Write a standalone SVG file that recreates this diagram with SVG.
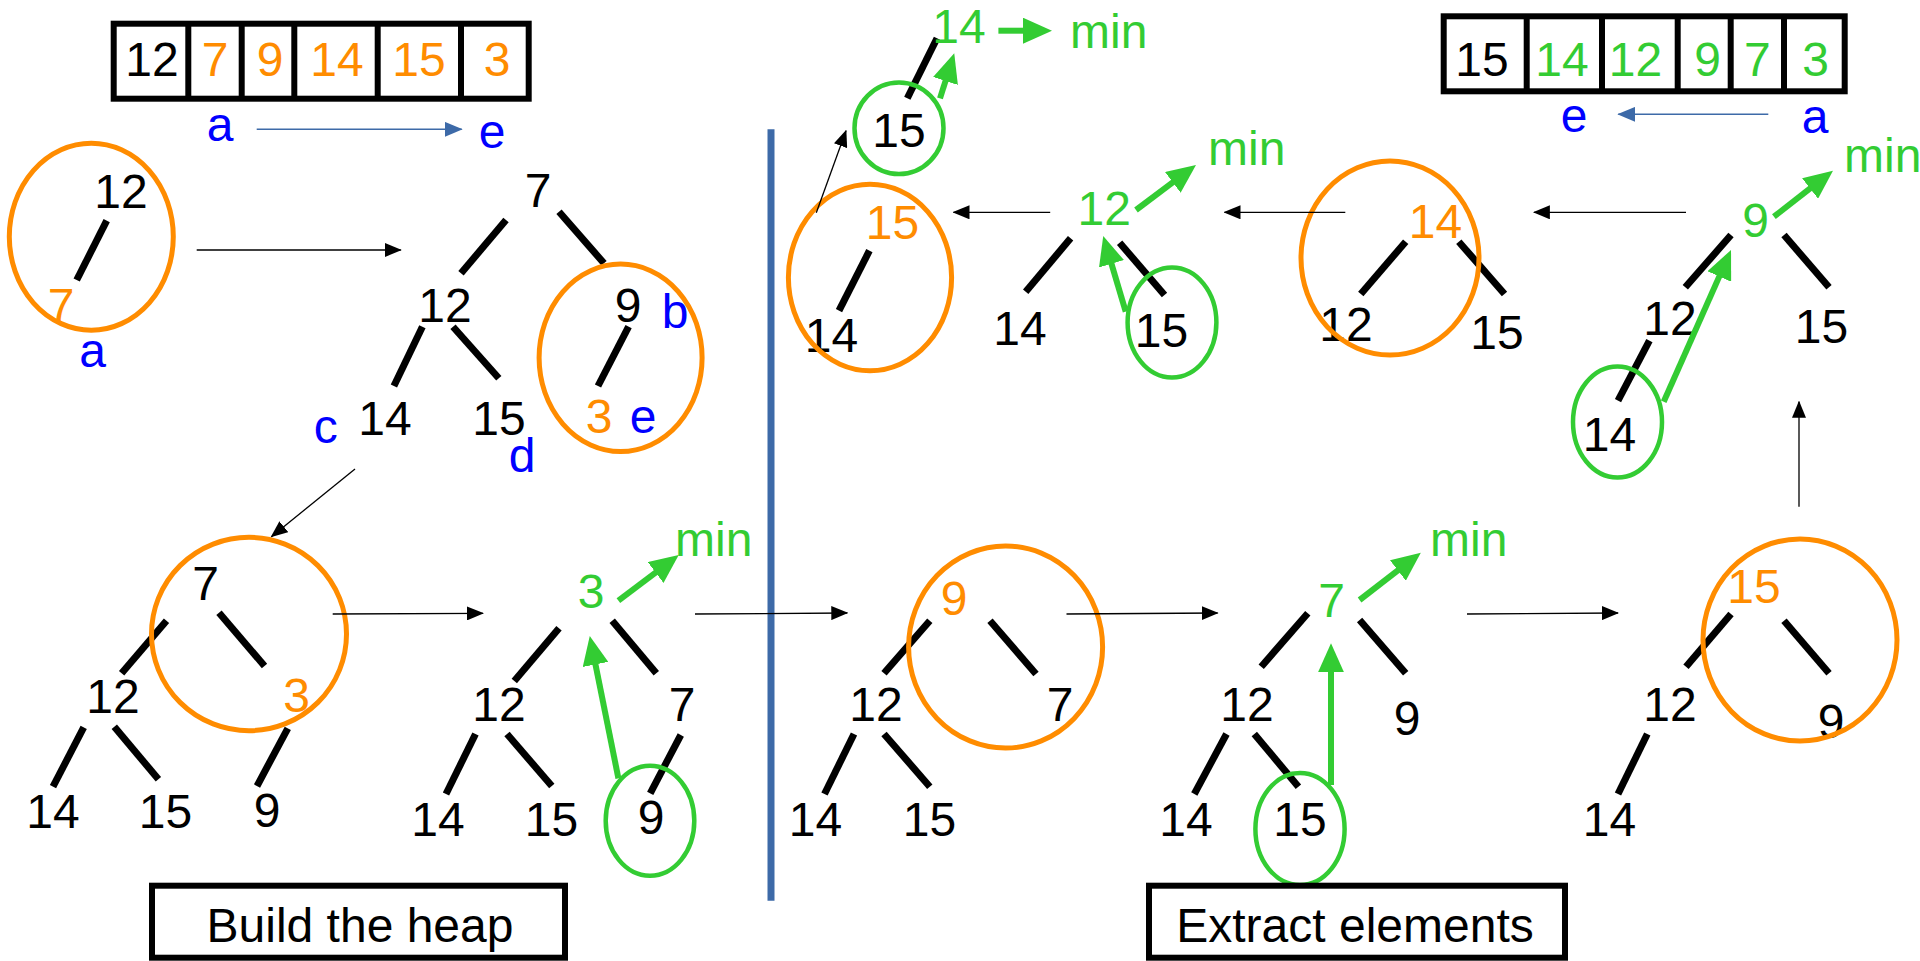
<svg xmlns="http://www.w3.org/2000/svg" width="1920" height="961" viewBox="0 0 1920 961">
  <style>
    text { font-family: "Liberation Sans", Arial, sans-serif; font-size: 48px; text-anchor: middle; fill: #000; }
    .o { fill: #FF8C00; }
    .g { fill: #33CC33; }
    .b { fill: #0000FF; }
    .st { text-anchor: start; }
    .edge { stroke: #000; stroke-width: 7; fill: none; }
    .cell { fill: #fff; stroke: #000; stroke-width: 6; }
    .div { stroke: #000; stroke-width: 6; }
    .ringO { fill: none; stroke: #FF8C00; stroke-width: 5; }
    .ringG { fill: none; stroke: #33CC33; stroke-width: 4.5; }
    .thin { stroke: #000; stroke-width: 1.3; fill: none; marker-end: url(#ah); }
    .blue { stroke: #3D6AA8; stroke-width: 1.5; fill: none; marker-end: url(#ahBlue); }
    .fat { stroke: #33CC33; stroke-width: 6; fill: none; marker-end: url(#ahGreen); }
    .label { fill: #fff; stroke: #000; stroke-width: 6; }
  </style>
  <defs>
    <marker id="ah" markerUnits="userSpaceOnUse" markerWidth="17" markerHeight="14" refX="16" refY="7" orient="auto">
      <path d="M0,0 L17,7 L0,14 z" fill="#000"/>
    </marker>
    <marker id="ahBlue" markerUnits="userSpaceOnUse" markerWidth="18" markerHeight="15" refX="17" refY="7.5" orient="auto">
      <path d="M0,0 L18,7.5 L0,15 z" fill="#3D6AA8"/>
    </marker>
    <marker id="ahGreen" markerUnits="userSpaceOnUse" markerWidth="29" markerHeight="26" refX="7" refY="13" orient="auto">
      <path d="M0,0 L29,13 L0,26 z" fill="#33CC33"/>
    </marker>
  </defs>

  <rect width="1920" height="961" fill="#fff"/>

  <!-- input array -->
  <g id="array-input">
    <rect class="cell" x="113.7" y="23.7" width="415" height="75"/>
    <line class="div" x1="188.3" y1="23.7" x2="188.3" y2="98.7"/>
    <line class="div" x1="241.7" y1="23.7" x2="241.7" y2="98.7"/>
    <line class="div" x1="294.3" y1="23.7" x2="294.3" y2="98.7"/>
    <line class="div" x1="377.7" y1="23.7" x2="377.7" y2="98.7"/>
    <line class="div" x1="461" y1="23.7" x2="461" y2="98.7"/>
    <text x="152" y="76">12</text>
    <text class="o" x="215" y="76">7</text>
    <text class="o" x="270" y="76">9</text>
    <text class="o" x="337" y="76">14</text>
    <text class="o" x="419" y="76">15</text>
    <text class="o" x="497" y="76">3</text>
    <text class="b" x="220" y="140.7">a</text>
    <text class="b" x="492" y="148.3">e</text>
  </g>

  <!-- sorted array -->
  <g id="array-sorted">
    <rect class="cell" x="1443.7" y="16.3" width="401" height="75"/>
    <line class="div" x1="1526.7" y1="16.3" x2="1526.7" y2="91.3"/>
    <line class="div" x1="1602" y1="16.3" x2="1602" y2="91.3"/>
    <line class="div" x1="1677.7" y1="16.3" x2="1677.7" y2="91.3"/>
    <line class="div" x1="1730.7" y1="16.3" x2="1730.7" y2="91.3"/>
    <line class="div" x1="1784" y1="16.3" x2="1784" y2="91.3"/>
    <text x="1482" y="76">15</text>
    <text class="g" x="1562" y="76">14</text>
    <text class="g" x="1635.5" y="76">12</text>
    <text class="g" x="1707.5" y="76">9</text>
    <text class="g" x="1757.3" y="76">7</text>
    <text class="g" x="1815.5" y="76">3</text>
    <text class="b" x="1574" y="131.7">e</text>
    <text class="b" x="1815" y="133.3">a</text>
  </g>

  <!-- build step 1: 12 / 7 -->
  <g id="build-1">
    <line class="edge" x1="106.7" y1="220.7" x2="76.7" y2="280"/>
    <text x="121" y="208.3">12</text>
    <text class="o" x="61" y="321.7">7</text>
    <ellipse class="ringO" cx="91.3" cy="236.7" rx="82" ry="93.5"/>
    <text class="b" x="92.5" y="366.7">a</text>
  </g>

  <!-- build step 2 -->
  <g id="build-2">
    <line class="edge" x1="506" y1="220" x2="461" y2="273.3"/>
    <line class="edge" x1="559" y1="211.7" x2="604" y2="263.3"/>
    <line class="edge" x1="422.4" y1="326.7" x2="393.9" y2="386"/>
    <line class="edge" x1="453" y1="326.7" x2="498.8" y2="378.3"/>
    <line class="edge" x1="628.6" y1="326.7" x2="598" y2="386"/>
    <text x="538" y="206.7">7</text>
    <text x="445" y="321.7">12</text>
    <text x="628" y="322">9</text>
    <text x="385" y="435">14</text>
    <text x="499" y="435">15</text>
    <text class="o" x="599" y="433.3">3</text>
    <ellipse class="ringO" cx="620.6" cy="357.8" rx="81.5" ry="93.7"/>
    <text class="b" x="675" y="328">b</text>
    <text class="b" x="325.7" y="442.7">c</text>
    <text class="b" x="522" y="471.7">d</text>
    <text class="b" x="643" y="433.3">e</text>
  </g>

  <!-- build step 3 -->
  <g id="build-3">
    <line class="edge" x1="166.5" y1="620.7" x2="121.6" y2="673.3"/>
    <line class="edge" x1="219" y1="612.7" x2="264.5" y2="666"/>
    <line class="edge" x1="83.7" y1="727.3" x2="53" y2="786.7"/>
    <line class="edge" x1="114.3" y1="726.7" x2="158.4" y2="779.3"/>
    <line class="edge" x1="287.8" y1="728.3" x2="257" y2="786"/>
    <text x="205.7" y="600">7</text>
    <text x="113" y="712.7">12</text>
    <text class="o" x="296.5" y="712.3">3</text>
    <text x="53" y="828.3">14</text>
    <text x="165.5" y="828.3">15</text>
    <text x="267" y="826.7">9</text>
    <ellipse class="ringO" cx="249" cy="634" rx="97.5" ry="96.7"/>
  </g>

  <!-- built heap, root 3 -->
  <g id="heap-3">
    <line class="edge" x1="559" y1="628.3" x2="514.3" y2="681"/>
    <line class="edge" x1="612.2" y1="620.7" x2="656.3" y2="673.3"/>
    <line class="edge" x1="475.5" y1="734" x2="446" y2="794"/>
    <line class="edge" x1="507" y1="734" x2="551.8" y2="786"/>
    <line class="edge" x1="680.8" y1="735" x2="650.2" y2="793.3"/>
    <text class="g" x="591" y="608.3">3</text>
    <text x="499" y="720.7">12</text>
    <text x="682" y="720.7">7</text>
    <text x="438" y="836">14</text>
    <text x="551.5" y="836">15</text>
    <text x="651" y="834">9</text>
    <ellipse class="ringG" cx="650" cy="820.8" rx="44.3" ry="55"/>
    <text class="g st" x="675" y="556">min</text>
  </g>

  <!-- heap, root 9 -->
  <g id="heap-9">
    <line class="edge" x1="929.8" y1="620.7" x2="884" y2="673.3"/>
    <line class="edge" x1="990" y1="620.7" x2="1036" y2="674"/>
    <line class="edge" x1="854" y1="734" x2="824.5" y2="794"/>
    <line class="edge" x1="884" y1="734" x2="929.8" y2="786.7"/>
    <text class="o" x="954" y="615">9</text>
    <text x="876" y="720.7">12</text>
    <text x="1060" y="720.7">7</text>
    <text x="815.5" y="836">14</text>
    <text x="929.5" y="836">15</text>
    <ellipse class="ringO" cx="1005.6" cy="647" rx="97" ry="101"/>
  </g>

  <!-- heap, root 7 -->
  <g id="heap-7">
    <line class="edge" x1="1307.8" y1="613.3" x2="1261.2" y2="666.7"/>
    <line class="edge" x1="1359.6" y1="620" x2="1405.7" y2="673.3"/>
    <line class="edge" x1="1226.5" y1="734" x2="1194.3" y2="794"/>
    <line class="edge" x1="1254.3" y1="734" x2="1298.4" y2="786.7"/>
    <text class="g" x="1331.6" y="616.7">7</text>
    <text x="1247" y="720.7">12</text>
    <text x="1407" y="735">9</text>
    <text x="1186" y="836">14</text>
    <text x="1300" y="836">15</text>
    <ellipse class="ringG" cx="1300" cy="829" rx="44.6" ry="56"/>
    <text class="g st" x="1430" y="556">min</text>
  </g>

  <!-- heap, root 15 -->
  <g id="heap-15a">
    <line class="edge" x1="1731" y1="614" x2="1686" y2="666.7"/>
    <line class="edge" x1="1784" y1="620.7" x2="1829" y2="673.3"/>
    <line class="edge" x1="1647.3" y1="734" x2="1618" y2="794"/>
    <text class="o" x="1754" y="602.7">15</text>
    <text x="1670" y="720.7">12</text>
    <text x="1831" y="738">9</text>
    <text x="1609.5" y="836">14</text>
    <ellipse class="ringO" cx="1800" cy="640" rx="97" ry="101"/>
  </g>

  <!-- heap, root 9 after sift -->
  <g id="heap-9b">
    <line class="edge" x1="1731" y1="235" x2="1685.3" y2="287.3"/>
    <line class="edge" x1="1784" y1="235" x2="1829" y2="287.3"/>
    <line class="edge" x1="1649.4" y1="340.7" x2="1618" y2="400.7"/>
    <text class="g" x="1755.5" y="237.3">9</text>
    <text x="1670" y="335">12</text>
    <text x="1821.5" y="343.3">15</text>
    <text x="1609.5" y="450.7">14</text>
    <ellipse class="ringG" cx="1617.5" cy="422" rx="44.5" ry="55.5"/>
    <text class="g st" x="1844" y="171.7">min</text>
  </g>

  <!-- heap, root 14 -->
  <g id="heap-14">
    <line class="edge" x1="1405.7" y1="241.7" x2="1360.8" y2="294"/>
    <line class="edge" x1="1458.8" y1="241.7" x2="1504.5" y2="294"/>
    <text class="o" x="1435.5" y="238.3">14</text>
    <text x="1346" y="340.7">12</text>
    <text x="1497" y="349.3">15</text>
    <ellipse class="ringO" cx="1390" cy="258" rx="89" ry="97"/>
  </g>

  <!-- heap, root 12 -->
  <g id="heap-12">
    <line class="edge" x1="1070.6" y1="238.3" x2="1025.7" y2="291.7"/>
    <line class="edge" x1="1119.6" y1="242.7" x2="1164.5" y2="295"/>
    <text class="g" x="1104.3" y="225">12</text>
    <text x="1020" y="345">14</text>
    <text x="1161.5" y="347.3">15</text>
    <ellipse class="ringG" cx="1172" cy="322.5" rx="44.4" ry="55"/>
    <text class="g st" x="1208" y="165">min</text>
  </g>

  <!-- heap, root 15 -->
  <g id="heap-15b">
    <line class="edge" x1="869.4" y1="250.7" x2="839" y2="310.7"/>
    <text class="o" x="892.5" y="239.3">15</text>
    <text x="831.5" y="351.7">14</text>
    <ellipse class="ringO" cx="870" cy="277.5" rx="81.6" ry="93.3"/>
  </g>

  <!-- heap, root 14 (last) -->
  <g id="heap-14b">
    <line class="edge" x1="937" y1="38.3" x2="907.3" y2="98.3"/>
    <text class="g" x="959" y="42.7">14</text>
    <text x="899" y="147.3">15</text>
    <ellipse class="ringG" cx="899" cy="128.3" rx="44.5" ry="45.8"/>
    <text class="g st" x="1070" y="48.3">min</text>
  </g>

  <!-- phase divider -->
  <line id="divider" x1="771" y1="129.3" x2="771" y2="900.7" stroke="#3D6AA8" stroke-width="7"/>

  <!-- phase captions -->
  <g id="caption-build">
    <rect class="label" x="152" y="885.7" width="413" height="72"/>
    <text x="360" y="941.5">Build the heap</text>
  </g>
  <g id="caption-extract">
    <rect class="label" x="1149" y="885.7" width="416" height="72"/>
    <text x="1355" y="941.5">Extract elements</text>
  </g>

  <!-- connectors -->
  <g id="connectors">
    <line class="blue" x1="256.7" y1="129.3" x2="461.7" y2="129.3"/>
    <line class="blue" x1="1768.3" y1="114.3" x2="1618.3" y2="114.3"/>

    <line class="thin" x1="196.7" y1="250" x2="400.8" y2="250"/>
    <line class="thin" x1="355" y1="469" x2="271.4" y2="536.7"/>
    <line class="thin" x1="332.7" y1="614" x2="483" y2="613.3"/>
    <line class="thin" x1="695" y1="614" x2="847.3" y2="613"/>
    <line class="thin" x1="1066.5" y1="614" x2="1217.6" y2="613"/>
    <line class="thin" x1="1467" y1="614" x2="1618" y2="613"/>
    <line class="thin" x1="1799" y1="506.7" x2="1799" y2="401.7"/>
    <line class="thin" x1="1686" y1="212.3" x2="1533.9" y2="212.3"/>
    <line class="thin" x1="1345.3" y1="212.3" x2="1224.5" y2="212.3"/>
    <line class="thin" x1="1050.2" y1="212.3" x2="953.5" y2="212.3"/>
    <line class="thin" x1="816.3" y1="212.7" x2="846" y2="130.7"/>

    <line class="fat" x1="998.4" y1="30.7" x2="1030" y2="30.7"/>
    <line class="fat" x1="940" y1="98.3" x2="947.6" y2="74.3"/>
    <line class="fat" x1="1136" y1="210" x2="1178.4" y2="178.2"/>
    <line class="fat" x1="1125.7" y1="311.7" x2="1109.5" y2="257.1"/>
    <line class="fat" x1="1773.9" y1="216.7" x2="1815.6" y2="184.2"/>
    <line class="fat" x1="1663.7" y1="401.7" x2="1722.1" y2="270.1"/>
    <line class="fat" x1="618.4" y1="600.7" x2="661.2" y2="568.3"/>
    <line class="fat" x1="618.4" y1="778.3" x2="594.1" y2="657.6"/>
    <line class="fat" x1="1359.6" y1="600" x2="1403.4" y2="566.2"/>
    <line class="fat" x1="1331" y1="785" x2="1331" y2="665.3"/>
  </g>
</svg>
